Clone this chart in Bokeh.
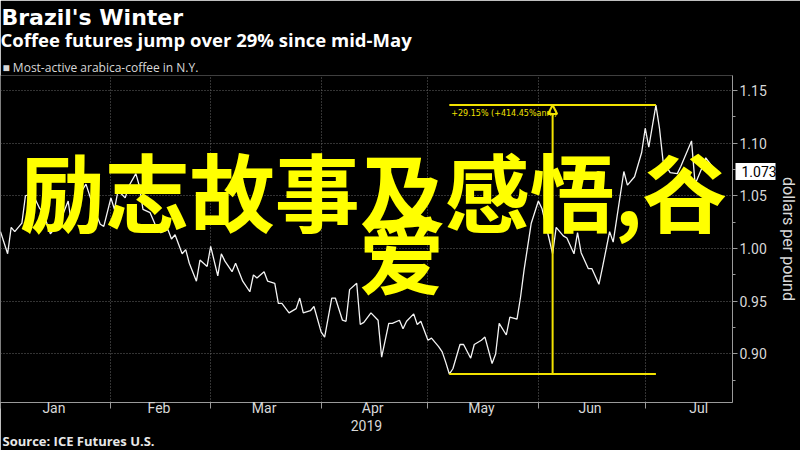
import pandas as pd
from bokeh.plotting import figure
from bokeh.models import (Range1d, FixedTicker, Label, Arrow, NormalHead,
                          ColumnDataSource, LinearAxis, Title)
from bokeh.embed import file_html
from bokeh.resources import INLINE

# ---------------- data ----------------
dates = [
    "2019-01-01", "2019-01-03", "2019-01-04", "2019-01-05", "2019-01-07", "2019-01-08",
    "2019-01-10", "2019-01-11", "2019-01-12", "2019-01-13", "2019-01-15", "2019-01-16",
    "2019-01-18", "2019-01-20", "2019-01-21", "2019-01-23", "2019-01-25", "2019-01-27",
    "2019-01-29", "2019-01-30",
    "2019-02-01", "2019-02-02", "2019-02-03", "2019-02-05", "2019-02-06", "2019-02-08",
    "2019-02-09", "2019-02-10", "2019-02-12", "2019-02-13", "2019-02-14", "2019-02-15",
    "2019-02-17", "2019-02-18", "2019-02-19", "2019-02-21", "2019-02-22", "2019-02-23",
    "2019-02-25", "2019-02-26", "2019-02-28",
    "2019-03-01", "2019-03-03", "2019-03-04", "2019-03-05", "2019-03-07", "2019-03-08",
    "2019-03-10", "2019-03-12", "2019-03-13", "2019-03-14", "2019-03-16", "2019-03-17",
    "2019-03-19", "2019-03-20", "2019-03-21", "2019-03-23", "2019-03-25", "2019-03-26",
    "2019-03-27", "2019-03-29", "2019-03-30",
    "2019-04-01", "2019-04-02", "2019-04-04", "2019-04-05", "2019-04-07", "2019-04-08",
    "2019-04-09", "2019-04-11", "2019-04-12", "2019-04-13", "2019-04-15", "2019-04-17",
    "2019-04-18", "2019-04-20", "2019-04-21", "2019-04-23", "2019-04-24", "2019-04-25",
    "2019-04-27", "2019-04-28", "2019-04-29",
    "2019-05-01", "2019-05-02", "2019-05-04", "2019-05-05", "2019-05-06", "2019-05-07",
    "2019-05-08", "2019-05-10", "2019-05-11", "2019-05-13", "2019-05-14", "2019-05-16",
    "2019-05-17", "2019-05-19", "2019-05-20", "2019-05-21", "2019-05-23", "2019-05-24",
    "2019-05-26", "2019-05-27", "2019-05-28", "2019-05-29", "2019-05-30",
    "2019-06-01", "2019-06-02", "2019-06-05", "2019-06-06", "2019-06-08", "2019-06-09",
    "2019-06-11", "2019-06-12", "2019-06-13", "2019-06-15", "2019-06-16", "2019-06-18",
    "2019-06-19", "2019-06-21", "2019-06-22", "2019-06-25", "2019-06-26", "2019-06-28",
    "2019-06-30",
    "2019-07-01", "2019-07-02", "2019-07-04", "2019-07-05", "2019-07-06", "2019-07-08",
    "2019-07-10", "2019-07-11", "2019-07-14", "2019-07-15", "2019-07-17", "2019-07-18",
    "2019-07-20", "2019-07-21",
]
prices = [
    1.016, 0.995, 1.020, 1.016, 1.024, 1.050, 1.052, 1.045, 1.038, 1.034, 1.014, 1.018,
    1.028, 1.045, 1.021, 1.050, 1.061, 1.040, 1.023, 1.021,
    1.048, 1.037, 1.055, 1.048, 1.059, 1.071, 1.059, 1.037, 1.034, 1.026, 1.018, 1.015,
    1.018, 1.009, 1.013, 0.995, 0.999, 0.986, 0.969, 0.989, 0.983,
    1.002, 0.974, 0.995, 0.988, 0.978, 0.986, 0.969, 0.959, 0.975, 0.972, 0.978, 0.969,
    0.967, 0.948, 0.948, 0.939, 0.943, 0.953, 0.939, 0.941, 0.945,
    0.921, 0.916, 0.953, 0.953, 0.932, 0.931, 0.961, 0.967, 0.928, 0.930, 0.939, 0.932,
    0.897, 0.929, 0.929, 0.932, 0.924, 0.931, 0.938, 0.928, 0.931,
    0.913, 0.915, 0.907, 0.902, 0.892, 0.881, 0.886, 0.909, 0.909, 0.896, 0.909, 0.913,
    0.916, 0.891, 0.900, 0.929, 0.918, 0.935, 0.933, 0.954, 0.980, 1.002, 1.024,
    1.045, 1.038, 0.995, 1.020, 1.012, 1.010, 0.995, 1.015, 0.996, 0.981, 0.981, 0.966,
    0.982, 1.016, 1.006, 1.073, 1.060, 1.068, 1.091,
    1.114, 1.096, 1.136, 1.114, 1.083, 1.072, 1.071, 1.078, 1.102, 1.061, 1.077, 1.086,
    1.077, 1.073,
]
month_starts = ["2019-01-01", "2019-02-01", "2019-03-01", "2019-04-01",
                "2019-05-01", "2019-06-01", "2019-07-01"]
month_mids = ["2019-01-16", "2019-02-14 12:00", "2019-03-16", "2019-04-15 12:00",
              "2019-05-16", "2019-06-15 12:00", "2019-07-16"]
month_labels = ["Jan", "Feb", "Mar", "Apr", "May", "Jun", "Jul"]
year_label = "2019"
y_ticks = [0.90, 0.95, 1.00, 1.05, 1.10, 1.15]
y_minor = [0.875, 0.925, 0.975, 1.025, 1.075, 1.125]
x_start, x_end = "2019-01-01", "2019-07-25 12:00"
y_start, y_end = 0.854, 1.164

title = "Brazil's Winter"
subtitle = "Coffee futures jump over 29% since mid-May"
legend_text = "\u25A0 Most-active arabica-coffee in N.Y."
source_text = "Source: ICE Futures U.S."
y_label = "dollars per pound"
change_text = "+29.15% (+414.45%ann.)"
overlay_line1 = "励志故事及感悟,谷"
overlay_line2 = "爱"

# ---------------- helpers ----------------
EPOCH = pd.Timestamp("1970-01-01")


def to_ms(s):
    return float((pd.Timestamp(s) - EPOCH) / pd.Timedelta(milliseconds=1))


x_dt = pd.to_datetime(dates)
src = ColumnDataSource(dict(x=x_dt, y=prices))

BG = "#000000"
AXIS_C = "#9a9a9a"
TXT_C = "#d8d8d8"
YEL = "#f2e200"
OVR = "#ffff00"
TICK_FONT = "Roboto"

p = figure(width=800, height=450, x_axis_type="datetime", y_axis_location="right",
           output_backend="svg", toolbar_location=None,
           x_range=Range1d(to_ms(x_start), to_ms(x_end)),
           y_range=Range1d(y_start, y_end),
           min_border_left=0, min_border_top=75, min_border_bottom=48,
           min_border_right=64)
p.title = None
p.background_fill_color = BG
p.border_fill_color = BG
p.outline_line_color = None

# x axis: ticks at month starts (minor), labels at month middles
xa = p.xaxis[0]
xa.ticker = FixedTicker(ticks=[to_ms(m) for m in month_mids],
                        minor_ticks=[to_ms(m) for m in month_starts])
xa.major_label_overrides = {to_ms(m): lab for m, lab in zip(month_mids, month_labels)}
xa.major_tick_line_color = None
xa.major_tick_out = 0
xa.minor_tick_out = 6
xa.minor_tick_in = 0
xa.minor_tick_line_color = AXIS_C
xa.axis_line_color = AXIS_C
xa.major_label_standoff = -9
xa.major_label_text_color = TXT_C
xa.major_label_text_font = TICK_FONT
xa.major_label_text_font_size = "14px"
xa.axis_label = year_label
xa.axis_label_standoff = 1
xa.axis_label_text_color = TXT_C
xa.axis_label_text_font = TICK_FONT
xa.axis_label_text_font_size = "14px"
xa.axis_label_text_font_style = "normal"

ya = p.yaxis[0]
ya.ticker = FixedTicker(ticks=y_ticks, minor_ticks=y_minor)
ya.major_label_overrides = {t: f"{t:.2f}" for t in y_ticks}
ya.axis_line_color = AXIS_C
ya.major_tick_line_color = AXIS_C
ya.minor_tick_line_color = AXIS_C
ya.major_tick_out = 5
ya.major_tick_in = 0
ya.minor_tick_out = 3
ya.minor_tick_in = 0
ya.major_label_standoff = 2
ya.major_label_text_color = TXT_C
ya.major_label_text_font = TICK_FONT
ya.major_label_text_font_size = "14px"

# outer right axis: last-price tag (white bar drawn by the tick) + unit label
tag = LinearAxis(ticker=FixedTicker(ticks=[prices[-1]], minor_ticks=[]),
                 major_label_overrides={prices[-1]: f"{prices[-1]:.3f}"})
tag.axis_line_color = None
tag.major_tick_line_color = "#ffffff"
tag.major_tick_line_width = 17
tag.major_tick_in = 34
tag.major_tick_out = 6
tag.major_label_standoff = -34
tag.major_label_text_color = "#000000"
tag.major_label_text_font = TICK_FONT
tag.major_label_text_font_size = "14px"
tag.axis_label = y_label
tag.axis_label_standoff = -1
tag.axis_label_text_color = TXT_C
tag.axis_label_text_font = TICK_FONT
tag.axis_label_text_font_size = "16px"
tag.axis_label_text_font_style = "normal"
p.add_layout(tag, "right")

p.xgrid.ticker = FixedTicker(ticks=[to_ms(m) for m in month_starts])
p.ygrid.ticker = FixedTicker(ticks=y_ticks)
for g in (p.xgrid, p.ygrid):
    g.grid_line_color = "#666666"
    g.grid_line_dash = "1 2"
    g.grid_line_width = 1

# price line
p.line("x", "y", source=src, line_color="#f4f4f4", line_width=1.3)

# change annotation (low -> high)
i_lo = prices.index(min(prices))
i_hi = prices.index(max(prices))
lo_x, hi_x = x_dt[i_lo], x_dt[i_hi]
mid_x = lo_x + (hi_x - lo_x) / 2
p.segment(x0=[lo_x, lo_x], y0=[prices[i_hi], prices[i_lo]],
          x1=[hi_x, hi_x], y1=[prices[i_hi], prices[i_lo]],
          line_color=YEL, line_width=2)
p.add_layout(Arrow(end=NormalHead(size=9, fill_color=BG, line_color=YEL, line_width=2),
                   x_start=mid_x, y_start=prices[i_lo], x_end=mid_x, y_end=prices[i_hi],
                   line_color=YEL, line_width=2))
p.add_layout(Label(x=lo_x, y=prices[i_hi], text=change_text, x_offset=2, y_offset=-4,
                   text_baseline="top", text_align="left", text_color=YEL,
                   text_font="DejaVu Sans", text_font_size="8px"))

# header (first added = nearest to the plot) and footer
p.add_layout(Title(text=legend_text, align="left", offset=2, standoff=-1,
                   text_font="Open Sans", text_font_size="12px",
                   text_font_style="normal", text_color=TXT_C), "above")
p.add_layout(Title(text=subtitle, align="left", offset=0, standoff=10.6,
                   text_font="Open Sans", text_font_size="18.5px",
                   text_font_style="bold", text_color="#ffffff"), "above")
p.add_layout(Title(text=title, align="left", offset=1, standoff=-20.6,
                   text_font="DejaVu Sans", text_font_size="22px",
                   text_font_style="bold", text_color="#ffffff"), "above")
p.add_layout(Title(text=" ", align="left", offset=0, standoff=10,
                   text_font="Open Sans", text_font_size="1px",
                   text_color=BG), "above")
p.add_layout(Title(text=source_text, align="left", offset=2, standoff=-3,
                   vertical_align="top",
                   text_font="Open Sans", text_font_size="13px",
                   text_font_style="bold", text_color="#e8e8e8"), "below")


# overlay text (screen units relative to the plot frame)
def slabel(x, y, text, size, color, font, style="normal", align="left",
           baseline="alphabetic"):
    p.add_layout(Label(x=x, y=y, x_units="screen", y_units="screen", text=text,
                       text_font=font, text_font_size=size, text_font_style=style,
                       text_color=color, text_align=align, text_baseline=baseline))


slabel(373, 214, overlay_line1, "85px", OVR, "Noto Sans CJK SC", style="bold",
       align="center", baseline="middle")
slabel(401, 152, overlay_line2, "85px", OVR, "Noto Sans CJK SC", style="bold",
       align="center", baseline="middle")

open("out.html", "w").write(file_html(p, INLINE))
